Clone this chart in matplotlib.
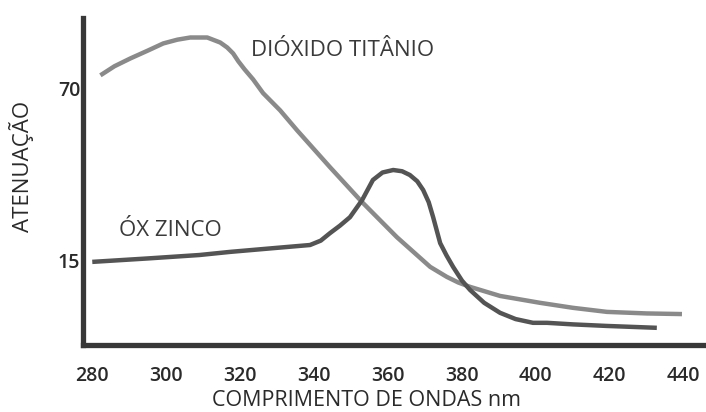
import matplotlib
matplotlib.use('Agg')
import matplotlib.pyplot as plt

plt.rcParams['font.family'] = ['Open Sans', 'DejaVu Sans']

# -------- dados --------
x_tio2 = [282.2, 286, 290.3, 295, 299.2, 303, 306.5, 311.1, 314.6, 316.5, 318.1, 319.5,
          321.2, 323.5, 326.2, 330.8, 335.4, 344.3, 353.0, 362.4, 371.4, 375.9, 379,
          382.2, 390.3, 401.1, 410, 419.2, 430, 439.5]
y_tio2 = [74.1, 77.0, 79.5, 82.0, 84.3, 85.5, 86.2, 86.2, 84.6, 83.0, 81.1, 78.6,
          76.0, 72.8, 68.4, 62.9, 56.5, 44.7, 33.5, 22.3, 12.8, 9.6, 7.8,
          6.4, 3.5, 1.3, -0.3, -1.6, -2.1, -2.3]

x_zno = [280, 295, 309, 317.3, 330, 338.9, 341.8, 344.3, 347, 349.7, 353.0, 355.9, 358.5,
         361.4, 363.8, 365.9, 367.9, 369.5, 371, 372.2, 374.1, 375.8, 377.6, 380, 382.2,
         386, 390.3, 394.5, 399.2, 403, 410, 419.2, 426, 432.7]
y_zno = [14.4, 15.5, 16.6, 17.6, 18.9, 19.8, 21.2, 23.6, 26.0, 28.7, 34.2, 40.6, 43.0,
         43.8, 43.4, 42.2, 40.2, 37.4, 33.5, 28.7, 20.4, 16.5, 12.8, 8.4, 5.4,
         1.3, -1.9, -3.9, -5.1, -5.1, -5.6, -6.1, -6.4, -6.7]

xticks = [280, 300, 320, 340, 360, 380, 400, 420, 440]
yticks = [15, 70]

fig = plt.figure(figsize=(7.06, 4.12), dpi=100)
ax = fig.add_axes([0.1176, 0.1626, 0.8824, 0.7934])

ax.plot(x_tio2, y_tio2, color='#8a8a8a', lw=3.2, solid_capstyle='butt', solid_joinstyle='round')
ax.plot(x_zno, y_zno, color='#545454', lw=3.2, solid_capstyle='butt', solid_joinstyle='round')

ax.set_xlim(277.5, 446)
ax.set_ylim(-12.2, 92.4)

for s in ['top', 'right']:
    ax.spines[s].set_visible(False)
for s in ['left', 'bottom']:
    ax.spines[s].set_linewidth(3.8)
    ax.spines[s].set_color('#383838')

ax.set_xticks(xticks)
ax.set_yticks(yticks)
ax.tick_params(length=0, labelsize=14, colors='#2a2a2a')
ax.tick_params(axis='x', pad=15)
ax.tick_params(axis='y', pad=2)
for lab in ax.get_xticklabels() + ax.get_yticklabels():
    lab.set_fontweight('semibold')

xl = ax.set_xlabel('COMPRIMENTO DE ONDAS nm', fontsize=15.5, color='#2a2a2a')
xl.set_va('center')
ax.xaxis.set_label_coords(367 / 706, 1 - 401 / 412, transform=fig.transFigure)
yl = ax.set_ylabel('ATENUAÇÃO', fontsize=16, color='#2a2a2a')
yl.set_va('center')
ax.yaxis.set_label_coords(22 / 706, 1 - 166 / 412, transform=fig.transFigure)

ax.text(347.6, 82.1, 'DIÓXIDO TITÂNIO', fontsize=16, color='#3a3a3a', ha='center', va='center')
ax.text(301.1, 24.6, 'ÓX ZINCO', fontsize=16, color='#3a3a3a', ha='center', va='center')

fig.savefig('out.png', dpi=100)
